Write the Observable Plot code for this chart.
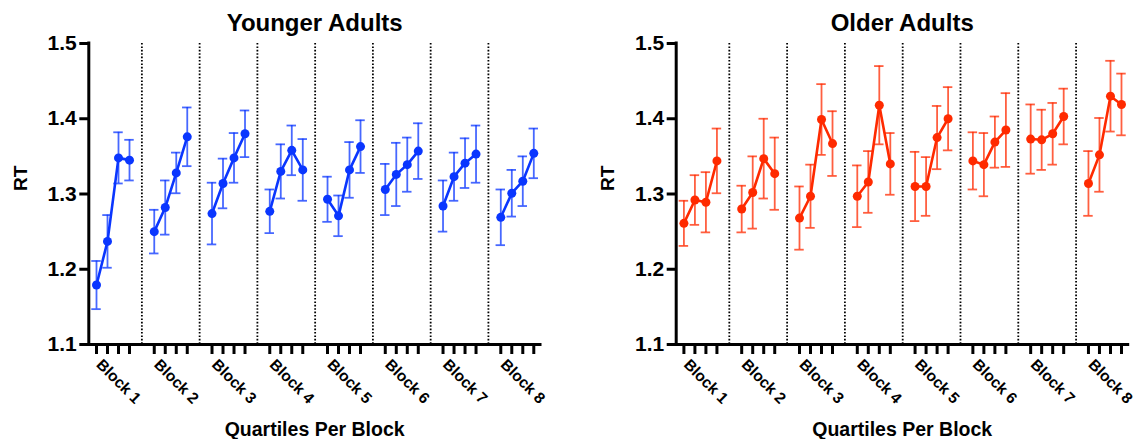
<!DOCTYPE html>
<html>
<head>
<meta charset="utf-8">
<script src="https://cdn.jsdelivr.net/npm/d3@7"></script>
<script src="https://cdn.jsdelivr.net/npm/@observablehq/plot@0.6"></script>
<style>
  html, body { margin: 0; padding: 0; background: #fff; }
  #wrap { position: relative; width: 1136px; height: 439px; overflow: hidden; }
  #left, #right { position: absolute; top: 0; width: 568px; height: 439px; }
  #left { left: 0; }
  #right { left: 568px; }
</style>
</head>
<body>
<div id="wrap"><div id="left"></div><div id="right"></div></div>
<script>
// ---- data ----
const blocks = ["Block 1", "Block 2", "Block 3", "Block 4", "Block 5", "Block 6", "Block 7", "Block 8"];
const quartiles = ["Q1", "Q2", "Q3", "Q4"];
const yTicks = [1.1, 1.2, 1.3, 1.4, 1.5];

const youngMean = [
  1.179, 1.237, 1.348, 1.345,
  1.250, 1.282, 1.328, 1.376,
  1.274, 1.314, 1.348, 1.380,
  1.277, 1.330, 1.358, 1.332,
  1.293, 1.271, 1.332, 1.363,
  1.306, 1.326, 1.339, 1.357,
  1.284, 1.323, 1.341, 1.353,
  1.269, 1.301, 1.317, 1.354
];
const youngErr = [
  0.032, 0.035, 0.034, 0.027,
  0.029, 0.036, 0.027, 0.039,
  0.041, 0.033, 0.033, 0.031,
  0.029, 0.036, 0.033, 0.041,
  0.030, 0.027, 0.037, 0.035,
  0.034, 0.042, 0.036, 0.037,
  0.034, 0.032, 0.033, 0.038,
  0.037, 0.031, 0.033, 0.033
];
const oldMean = [
  1.261, 1.292, 1.289, 1.344,
  1.280, 1.302, 1.347, 1.327,
  1.268, 1.297, 1.399, 1.367,
  1.297, 1.316, 1.418, 1.340,
  1.310, 1.310, 1.375, 1.400,
  1.344, 1.339, 1.369, 1.385,
  1.373, 1.372, 1.380, 1.403,
  1.314, 1.352, 1.430, 1.419
];
const oldErr = [
  0.030, 0.033, 0.040, 0.043,
  0.031, 0.048, 0.053, 0.048,
  0.042, 0.042, 0.047, 0.043,
  0.041, 0.041, 0.052, 0.041,
  0.046, 0.039, 0.042, 0.042,
  0.038, 0.042, 0.034, 0.049,
  0.046, 0.040, 0.041, 0.037,
  0.043, 0.049, 0.047, 0.041
];

// ---- layout helpers ----
const BLOCK_STEP = 5.25;          // slot units between first quartiles of consecutive blocks
const X_DOMAIN = [-0.7, 40.36];
const CAP = 0.43;                 // half width of error-bar caps, in slot units
const FONT = "'Liberation Sans', Arial, Helvetica, sans-serif";

function rows(means, errs) {
  return blocks.flatMap((b, bi) => quartiles.map((q, qi) => {
    const i = bi * 4 + qi;
    return {block: b, pos: bi * BLOCK_STEP + qi, mean: means[i], lo: means[i] - errs[i], hi: means[i] + errs[i]};
  }));
}

const tickPositions = blocks.flatMap((b, bi) => quartiles.map((q, qi) => bi * BLOCK_STEP + qi));

function panel({title, means, errs, color, marginLeft, marginRight}) {
  const data = rows(means, errs);
  return Plot.plot({
    width: 568,
    height: 439,
    marginLeft,
    marginRight,
    marginTop: 43,
    marginBottom: 95,
    style: {fontFamily: FONT, color: "black", background: "white", overflow: "visible"},
    x: {domain: X_DOMAIN},
    y: {domain: [1.1, 1.5]},
    marks: [
      // dotted block separators
      Plot.ruleX(blocks.slice(0, -1), {
        x: (d, i) => i * BLOCK_STEP + 3 + (BLOCK_STEP - 3) / 2,
        stroke: "black", strokeWidth: 1.8, strokeDasharray: "1.6,1.8"
      }),
      // axes lines
      Plot.ruleX([X_DOMAIN[0]], {stroke: "black", strokeWidth: 3, strokeLinecap: "square"}),
      Plot.ruleY([1.1], {stroke: "black", strokeWidth: 3, strokeLinecap: "square"}),
      Plot.axisY({
        ticks: yTicks, tickSize: 9, tickPadding: 3, strokeWidth: 3,
        tickFormat: d3.format(".1f"), fontSize: 21, fontWeight: "bold", label: null
      }),
      Plot.axisX({
        ticks: tickPositions, tickSize: 10, strokeWidth: 3,
        tickFormat: () => "", label: null
      }),
      // block labels
      Plot.text(blocks, {
        x: (d, i) => i * BLOCK_STEP, frameAnchor: "bottom", text: d => d,
        rotate: 45, textAnchor: "start", lineAnchor: "bottom",
        dx: -1, dy: 21, fontSize: 15.5, fontWeight: "bold", fill: "black"
      }),
      // error bars
      Plot.ruleX(data, {x: "pos", y1: "lo", y2: "hi", stroke: color, strokeWidth: 1.8, strokeOpacity: 0.75}),
      Plot.ruleY(data, {y: "hi", x1: d => d.pos - CAP, x2: d => d.pos + CAP, stroke: color, strokeWidth: 1.8, strokeOpacity: 0.75}),
      Plot.ruleY(data, {y: "lo", x1: d => d.pos - CAP, x2: d => d.pos + CAP, stroke: color, strokeWidth: 1.8, strokeOpacity: 0.75}),
      // lines & points
      Plot.line(data, {x: "pos", y: "mean", z: "block", stroke: color, strokeWidth: 2.6}),
      Plot.dot(data, {x: "pos", y: "mean", r: 4.5, fill: color, stroke: "none"}),
      // titles / labels
      Plot.text([title], {frameAnchor: "top", lineAnchor: "bottom", dy: -13, fontSize: 24, fontWeight: "bold", fill: "black"}),
      Plot.text(["RT"], {frameAnchor: "left", dx: -68, dy: -3, rotate: -90, fontSize: 19, fontWeight: "bold", fill: "black"}),
      Plot.text(["Quartiles Per Block"], {frameAnchor: "bottom", lineAnchor: "bottom", dy: 91, fontSize: 19.5, fontWeight: "bold", fill: "black"})
    ]
  });
}

document.getElementById("left").append(panel({
  title: "Younger Adults", means: youngMean, errs: youngErr, color: "#0a36ff", marginLeft: 88.3, marginRight: 28
}));
document.getElementById("right").append(panel({
  title: "Older Adults", means: oldMean, errs: oldErr, color: "#ff2a00", marginLeft: 107.7, marginRight: 8.3
}));
</script>
</body>
</html>
